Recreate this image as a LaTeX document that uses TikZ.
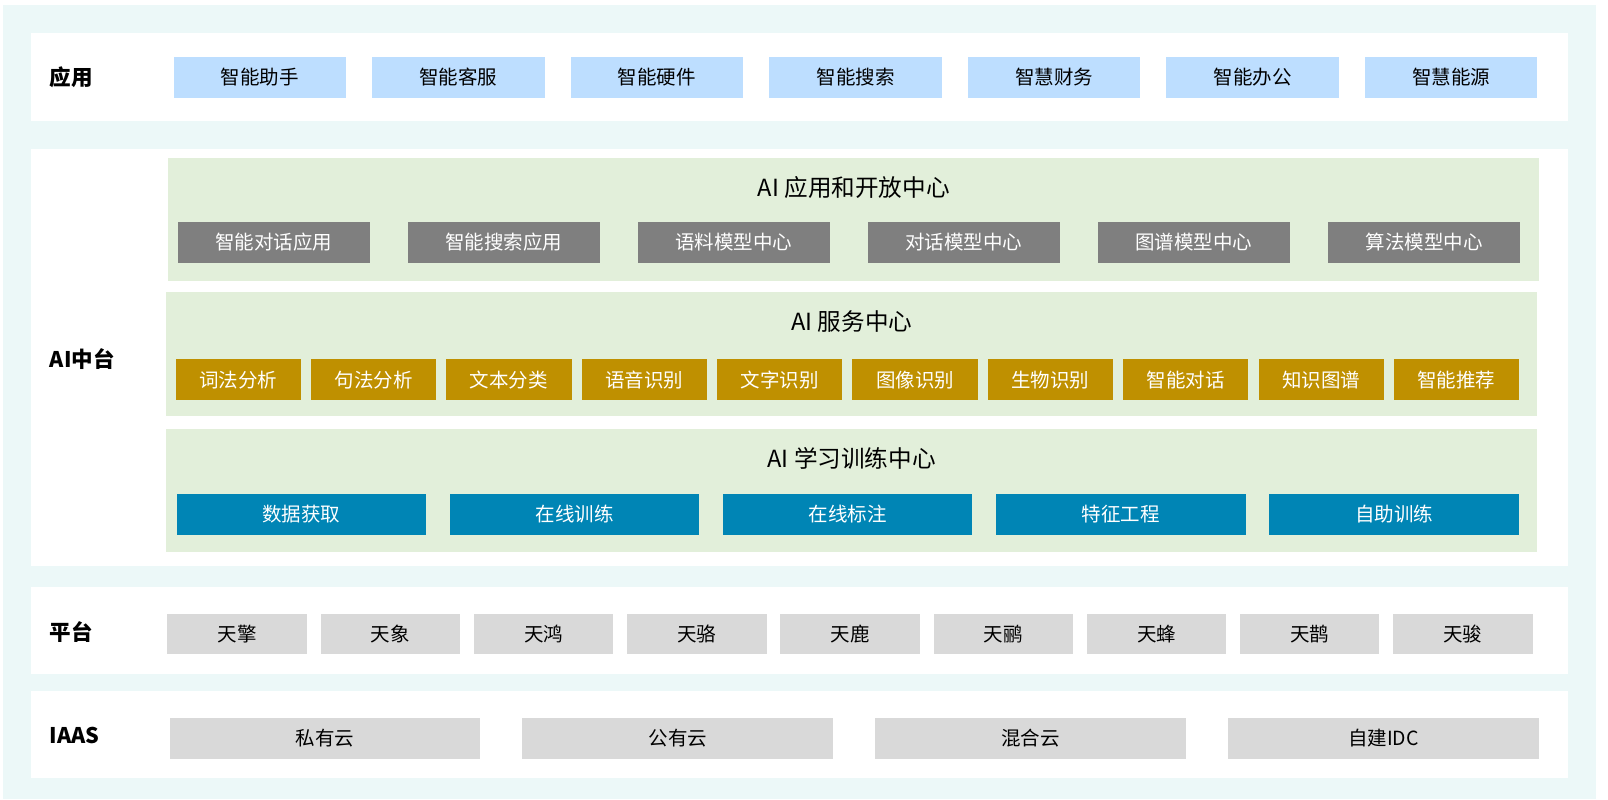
\documentclass[tikz,border=0pt]{standalone}
\usepackage{fontspec}
\setmainfont{Noto Sans CJK SC}
\begin{document}
\begin{tikzpicture}[x=1pt,y=-1pt,
  panel/.style={fill=white,draw=none},
  sub/.style={fill=green!8!white,fill={rgb,255:red,226;green,239;blue,218}},
  box/.style={anchor=north west,inner sep=0pt,font=\fontsize{19}{19}\selectfont},
  lab/.style={anchor=west,font=\fontsize{21}{21}\selectfont\bfseries},
  ttl/.style={font=\fontsize{23}{23}\selectfont}]
\definecolor{cy}{RGB}{236,248,248}
\definecolor{lb}{RGB}{189,222,255}
\definecolor{gr}{RGB}{127,127,127}
\definecolor{gd}{RGB}{191,144,0}
\definecolor{bl}{RGB}{0,133,181}
\definecolor{lg}{RGB}{217,217,217}
\useasboundingbox (0,0) rectangle (1567,779);
\fill[white] (0,0) rectangle (1567,779);
\fill[cy] (3,5) rectangle (1555,779);
\fill[panel] (30,32) rectangle (1528,118);
\fill[panel] (30,145) rectangle (1528,552);
\fill[panel] (30,572) rectangle (1528,657);
\fill[panel] (30,673) rectangle (1528,758);
\node[lab] (l1) at (45,75) {应用};
\node[lab] (l2) at (45,350) {AI中台};
\node[lab] (l3) at (45,616) {平台};
\node[lab] (l4) at (45,717) {IAAS};
% apps
\foreach \t [count=\i from 0] in {智能助手,智能客服,智能硬件,智能搜索,智慧财务,智能办公,智慧能源}
  \node[box,fill=lb,minimum width=168pt,minimum height=40pt] (a\i) at (169+193.5*\i,55) {\t};
% sub1
\fill[sub] (164,154) rectangle (1500,274);
\node[ttl] (t1) at (832,183) {AI 应用和开放中心};
\foreach \t [count=\i from 0] in {智能对话应用,智能搜索应用,语料模型中心,对话模型中心,图谱模型中心,算法模型中心}
  \node[box,fill=gr,text=white,minimum width=187pt,minimum height=40pt] (g\i) at (173+224.2*\i,216) {\t};
% sub2
\fill[sub] (162,285) rectangle (1498,405);
\node[ttl] (t2) at (830,313) {AI 服务中心};
\foreach \t [count=\i from 0] in {词法分析,句法分析,文本分类,语音识别,文字识别,图像识别,生物识别,智能对话,知识图谱,智能推荐}
  \node[box,fill=gd,text=white,minimum width=122pt,minimum height=40pt] (s\i) at (171+131.9*\i,350) {\t};
% sub3
\fill[sub] (162,418) rectangle (1498,538);
\node[ttl] (t3) at (830,447) {AI 学习训练中心};
\foreach \t [count=\i from 0] in {数据获取,在线训练,在线标注,特征工程,自助训练}
  \node[box,fill=bl,text=white,minimum width=243pt,minimum height=40pt] (b\i) at (172+266.2*\i,481) {\t};
% platform
\foreach \t [count=\i from 0] in {天擎,天象,天鸿,天骆,天鹿,天鹂,天蜂,天鹊,天骏}
  \node[box,fill=lg,minimum width=136pt,minimum height=39pt] (p\i) at (163+149.3*\i,598) {\t};
% iaas
\foreach \t [count=\i from 0] in {私有云,公有云,混合云,自建IDC}
  \node[box,fill=lg,minimum width=303pt,minimum height=40pt] (c\i) at (165+343.8*\i,699) {\t};
\end{tikzpicture}
\end{document}
